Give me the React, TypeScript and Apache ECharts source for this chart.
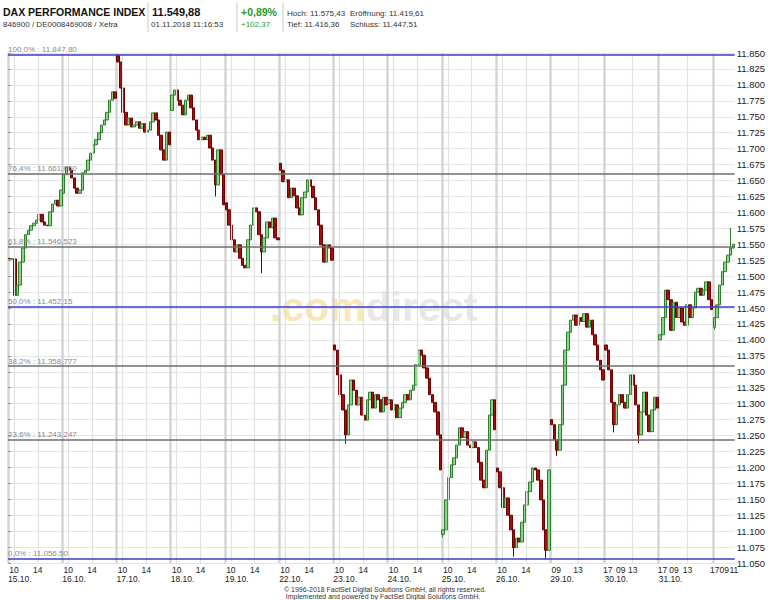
import React, { useEffect, useRef } from "react";
import * as echarts from "echarts";

// ---- data ----
const dayLabels = ["15.10.", "16.10.", "17.10.", "18.10.", "19.10.", "22.10.", "23.10.", "24.10.", "25.10.", "26.10.", "29.10.", "30.10.", "31.10."];

const closes1510 = [11527, 11527, 11470, 11486, 11522, 11544, 11565, 11572, 11579, 11583, 11588, 11597, 11585, 11580, 11579, 11601, 11613, 11619, 11610, 11635];
const closes1610 = [11659, 11671, 11666, 11654, 11638, 11630, 11635, 11662, 11666, 11682, 11693, 11706, 11714, 11725, 11737, 11745, 11757, 11776, 11789, 11779];
const closes1710 = [11836, 11795, 11757, 11737, 11748, 11734, 11737, 11742, 11732, 11739, 11726, 11729, 11742, 11756, 11745, 11721, 11698, 11682, 11726, 11706];
const closes1810 = [11784, 11792, 11776, 11768, 11753, 11776, 11784, 11764, 11745, 11729, 11714, 11718, 11714, 11721, 11701, 11682, 11643, 11698, 11659, 11612];
const closes1910 = [11604, 11580, 11557, 11538, 11549, 11528, 11517, 11513, 11557, 11580, 11607, 11601, 11565, 11538, 11560, 11585, 11576, 11591, 11560, 11557];
const closes2210 = [11666, 11648, 11651, 11623, 11638, 11626, 11607, 11596, 11623, 11632, 11651, 11641, 11623, 11604, 11580, 11549, 11522, 11549, 11544, 11525];
const closes2310 = [11384, 11345, 11314, 11290, 11251, 11298, 11337, 11321, 11298, 11310, 11282, 11274, 11306, 11318, 11293, 11314, 11306, 11287, 11310, 11298];
const closes2410 = [11306, 11290, 11298, 11278, 11293, 11302, 11314, 11306, 11321, 11329, 11361, 11384, 11376, 11356, 11340, 11314, 11302, 11287, 11251, 11196];
const closes2510 = [11102, 11149, 11184, 11204, 11215, 11235, 11262, 11247, 11256, 11235, 11231, 11240, 11231, 11208, 11180, 11168, 11227, 11282, 11306, 11259];
const closes2610 = [11193, 11168, 11137, 11152, 11125, 11102, 11074, 11089, 11083, 11114, 11141, 11162, 11177, 11199, 11196, 11180, 11149, 11102, 11070, 11196];
const closes2910 = [11267, 11243, 11227, 11267, 11329, 11384, 11412, 11431, 11439, 11423, 11435, 11429, 11441, 11420, 11431, 11408, 11392, 11368, 11353, 11337];
const closes3010 = [11384, 11353, 11302, 11267, 11298, 11314, 11302, 11293, 11314, 11345, 11329, 11298, 11251, 11287, 11318, 11282, 11256, 11290, 11310, 11293];
const closes3110 = [11408, 11435, 11478, 11463, 11415, 11459, 11435, 11450, 11428, 11423, 11455, 11435, 11450, 11475, 11481, 11470, 11478, 11491, 11463, 11447.51];
const closes0111 = [11435, 11455, 11486, 11507, 11522, 11533, 11544, 11549.88];

const dayOpens = [11528, 11630, 11846, 11760, 11615, 11677, 11392, 11300, 11095, 11199, 11275, 11392, 11400, 11419.61];

// [day, slot, low, high]
const wickExtremes: Array<[number, number, number | null, number | null]> = [
  [0, 2, 11466, null],
  [2, 0, null, 11847.8],
  [3, 16, 11625, null],
  [4, 13, 11505, null],
  [6, 4, 11237, null],
  [8, 0, 11090, null],
  [9, 6, 11060, null],
  [9, 18, 11056.5, null],
  [10, 2, 11218, null],
  [11, 3, 11255, null],
  [11, 12, 11238, null],
  [13, 0, 11416.36, null],
  [13, 6, null, 11575.43],
];

const fibNames = ["100,0%", "76,4%", "61,8%", "50,0%", "38,2%", "23,6%", "0,0%"];
const fibValues = [11847.8, 11661.05, 11546.523, 11452.15, 11358.777, 11243.247, 11056.5];
const fibTexts = ["11.847,80", "11.661,050", "11.546,523", "11.452,15", "11.358,777", "11.243,247", "11.056,50"];

// hour ticks: [time in trading-day units, label]
const preDstHours: Array<[number, string]> = [[0.11, "10"], [0.55, "14"]];
const preDstDayCount = 10;
const postDstTicks: Array<[number, string]> = [
  [10.11, "09"], [10.51, "13"], [11.06, "17"],
  [11.3, "09"], [11.52, "13"], [12.07, "17"],
  [12.28, "09"], [12.53, "13"], [13.035, "17"],
  [13.21, "09"], [13.385, "11"],
];

const yMin = 11050;
const yMax = 11850;
const yStep = 25;

const dayCloses = [closes1510, closes1610, closes1710, closes1810, closes1910, closes2210, closes2310, closes2410, closes2510, closes2610, closes2910, closes3010, closes3110, closes0111];
const slotsPerDay = 20;

// ---- build ----
const candles: number[][] = [];
dayCloses.forEach((closes, d) => {
  closes.forEach((c, s) => {
    const o = s === 0 ? dayOpens[d] : closes[s - 1];
    let lo = Math.min(o, c);
    let hi = Math.max(o, c);
    const ex = wickExtremes.find((e) => e[0] === d && e[1] === s);
    if (ex) {
      if (ex[2] != null) lo = Math.min(lo, ex[2]);
      if (ex[3] != null) hi = Math.max(hi, ex[3]);
    }
    candles.push([o, c, lo, hi]);
  });
});
const categories = candles.map((_, i) => String(i));
const xMaxDays = candles.length / slotsPerDay;

const hourTicks: Array<[number, string]> = [];
for (let d = 0; d < preDstDayCount; d++) {
  preDstHours.forEach(([f, l]) => hourTicks.push([d + f, l]));
}
postDstTicks.forEach((t) => hourTicks.push(t));
const thinLines = hourTicks.filter((t) => t[1] === "10" || t[1] === "14" || t[1] === "13").map((t) => t[0]);
const dayStarts = dayLabels.map((_, i) => i);

const fmtThousands = (v: number) => {
  const s = Math.round(v).toString();
  return s.slice(0, s.length - 3) + "." + s.slice(s.length - 3);
};

const FONT = "'Liberation Sans', Arial, sans-serif";

const option: any = {
  animation: false,
  backgroundColor: "#ffffff",
  textStyle: { fontFamily: FONT },
  grid: { left: 8, right: 29, top: 53, bottom: 37 },
  xAxis: [
    { type: "category", data: categories, show: false, boundaryGap: true },
    {
      type: "value", min: 0, max: xMaxDays, interval: 1,
      axisLine: { show: false }, axisTick: { show: false }, axisLabel: { show: false },
      splitLine: { show: true, showMaxLine: false, lineStyle: { color: "#d4d4d4", width: 2.5 } },
    },
    {
      type: "value", min: 0, max: xMaxDays, position: "bottom",
      axisLine: { show: false }, axisTick: { show: false }, splitLine: { show: false },
      axisLabel: {
        customValues: hourTicks.map((t) => t[0]),
        showMinLabel: true, showMaxLabel: true, hideOverlap: false,
        margin: 2, fontSize: 8.5, lineHeight: 9, color: "#222", fontFamily: FONT,
        formatter: (v: number) => {
          const t = hourTicks.find((h) => Math.abs(h[0] - v) < 1e-6);
          return t ? t[1] : "";
        },
      },
    },
    {
      type: "value", min: 0, max: xMaxDays, position: "bottom", offset: 9,
      axisLine: { show: false }, axisTick: { show: false }, splitLine: { show: false },
      axisLabel: {
        customValues: dayStarts,
        showMinLabel: true, showMaxLabel: true, hideOverlap: false,
        margin: 2, fontSize: 8.5, lineHeight: 9, color: "#222", align: "left", fontFamily: FONT,
        formatter: (v: number) => dayLabels[Math.round(v)] || "",
      },
    },
  ],
  yAxis: {
    type: "value", position: "right", min: yMin, max: yMax, interval: yStep,
    axisLine: { show: false },
    axisTick: { show: true, length: 3, lineStyle: { color: "#999" } },
    axisLabel: { margin: 2, fontSize: 9.5, color: "#222", fontFamily: FONT, formatter: (v: number) => fmtThousands(v) },
    splitLine: { show: true, lineStyle: { color: "#e4e4e4", width: 1 } },
  },
  series: [
    {
      type: "line",
      xAxisIndex: 1,
      yAxisIndex: 0,
      data: [],
      z: 1,
      silent: true,
      markLine: {
        silent: true,
        symbol: ["none", "none"],
        animation: false,
        data: [
          ...thinLines.map((x) => ({
            xAxis: x,
            lineStyle: { color: "#e2e2e2", width: 1.2, type: "solid" },
            label: { show: false },
          })),
          ...fibValues.map((v, i) => {
            const blue = i === 0 || i === 3 || i === fibValues.length - 1;
            return {
              yAxis: v,
              lineStyle: { color: blue ? "#3b3bc4" : "#6e6e6e", width: 1.5, type: "solid" },
              label: {
                show: true,
                position: "insideStartTop",
                formatter: fibNames[i] + " : " + fibTexts[i],
                color: "#8a8a8a",
                fontSize: 8,
                fontFamily: FONT,
                distance: [0, 1],
              },
            };
          }),
        ],
      },
    },
    {
      type: "candlestick",
      xAxisIndex: 0,
      yAxisIndex: 0,
      z: 3,
      barWidth: 3,
      data: candles,
      itemStyle: {
        color: "#86d686",
        color0: "#a10f0f",
        borderColor: "#2d7f2d",
        borderColor0: "#6e0000",
        borderWidth: 1,
      },
    },
  ],
  graphic: [
    {
      type: "text", z: 0, left: 270, top: 286, silent: true,
      style: {
        text: "{a|.com}{b|direct}",
        rich: {
          a: { fill: "#f8e7b8", font: "bold 41px " + FONT },
          b: { fill: "#e8e8e8", font: "bold 41px " + FONT },
        },
      },
    },
    { type: "text", x: 3, y: 12, style: { text: "DAX PERFORMANCE INDEX", font: "bold 10.5px " + FONT, fill: "#111", verticalAlign: "middle", textVerticalAlign: "middle" } },
    { type: "text", x: 3, y: 24, style: { text: "846900 / DE0008469008 / Xetra", font: "8px " + FONT, fill: "#333", verticalAlign: "middle", textVerticalAlign: "middle" } },
    { type: "line", shape: { x1: 148, y1: 3, x2: 148, y2: 32 }, style: { stroke: "#c8c8c8", lineWidth: 1 } },
    { type: "text", x: 152, y: 12, style: { text: "11.549,88", font: "bold 11px " + FONT, fill: "#111", verticalAlign: "middle", textVerticalAlign: "middle" } },
    { type: "text", x: 151, y: 24, style: { text: "01.11.2018 11:16:53", font: "8px " + FONT, fill: "#333", verticalAlign: "middle", textVerticalAlign: "middle" } },
    { type: "line", shape: { x1: 237, y1: 3, x2: 237, y2: 32 }, style: { stroke: "#c8c8c8", lineWidth: 1 } },
    { type: "text", x: 241, y: 12, style: { text: "+0,89%", font: "bold 10.5px " + FONT, fill: "#2a9a2a", verticalAlign: "middle", textVerticalAlign: "middle" } },
    { type: "text", x: 241, y: 24, style: { text: "+102,37", font: "8px " + FONT, fill: "#2a9a2a", verticalAlign: "middle", textVerticalAlign: "middle" } },
    { type: "line", shape: { x1: 283, y1: 3, x2: 283, y2: 32 }, style: { stroke: "#c8c8c8", lineWidth: 1 } },
    { type: "text", x: 287, y: 13, style: { text: "Hoch: 11.575,43", font: "8px " + FONT, fill: "#333", verticalAlign: "middle", textVerticalAlign: "middle" } },
    { type: "text", x: 350, y: 13, style: { text: "Eröffnung: 11.419,61", font: "8px " + FONT, fill: "#333", verticalAlign: "middle", textVerticalAlign: "middle" } },
    { type: "text", x: 287, y: 24, style: { text: "Tief: 11.416,36", font: "8px " + FONT, fill: "#333", verticalAlign: "middle", textVerticalAlign: "middle" } },
    { type: "text", x: 350, y: 24, style: { text: "Schluss: 11.447,51", font: "8px " + FONT, fill: "#333", verticalAlign: "middle", textVerticalAlign: "middle" } },
    { type: "text", x: 385, y: 589, style: { text: "© 1996-2018 FactSet Digital Solutions GmbH, all rights reserved.", font: "7px " + FONT, fill: "#333", align: "center", textAlign: "center", verticalAlign: "middle", textVerticalAlign: "middle" } },
    { type: "text", x: 383, y: 596, style: { text: "Implemented and powered by FactSet Digital Solutions GmbH.", font: "7px " + FONT, fill: "#333", align: "center", textAlign: "center", verticalAlign: "middle", textVerticalAlign: "middle" } },
  ],
};

export default function App() {
  const ref = useRef<HTMLDivElement>(null);
  useEffect(() => {
    if (!ref.current) return;
    const chart = echarts.init(ref.current, null, { renderer: "svg" });
    chart.setOption(option);
    return () => chart.dispose();
  }, []);
  return <div ref={ref} style={{ position: "fixed", left: 0, top: 0, width: 768, height: 600, background: "#fff" }} />;
}
